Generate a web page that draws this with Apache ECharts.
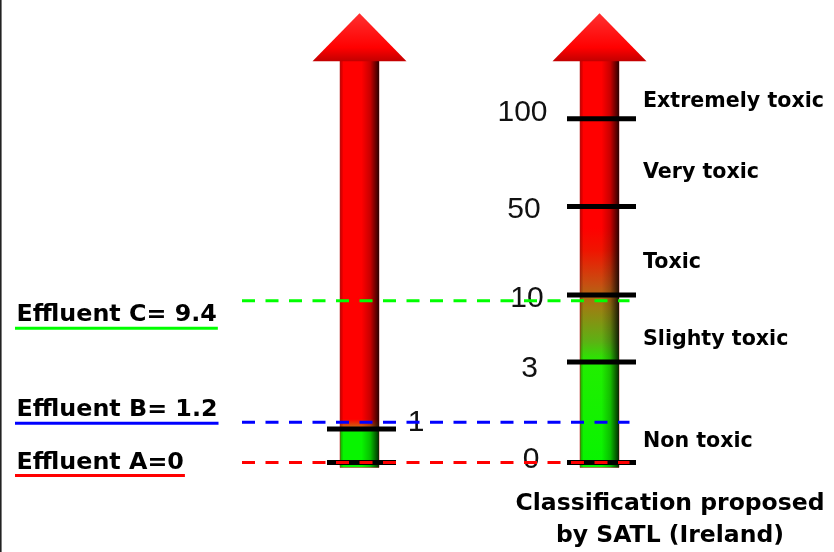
<!DOCTYPE html>
<html>
<head>
<meta charset="utf-8">
<script src="https://cdn.jsdelivr.net/npm/echarts@6/dist/echarts.min.js"></script>
<style>
html,body{margin:0;padding:0;background:#fff;}
#chart{width:834px;height:552px;}
</style>
</head>
<body>
<div id="chart"></div>
<script>
// ---------------- data ----------------
const arrowNames = ['Effluents', 'SATL classification'];
const effluentTicks = [0, 1];
const effluentTickLabels = ['', '1'];
const satlTicks = [0, 3, 10, 50, 100];
const satlTickLabels = ['0', '3', '10', '50', '100'];
const classNames = ['Non toxic', 'Slighty toxic', 'Toxic', 'Very toxic', 'Extremely toxic'];
const classLower = [0, 3, 10, 50, 100];
const classUpper = [3, 10, 50, 100, null];
const effluentNames = ['Effluent A', 'Effluent B', 'Effluent C'];
const effluentValues = [0, 1.2, 9.4];
const effluentLabels = ['Effluent A=0', 'Effluent B= 1.2', 'Effluent C= 9.4'];
const titleLines = ['Classification proposed', 'by SATL (Ireland)'];

// schematic (piecewise) scale of the diagram: toxic-unit value -> axis level
const scaleStops = [0, 3, 10, 50, 100];
const stopLevels = [0, 3, 5, 7.64, 10.26];

function toLevel(v) {
  const n = scaleStops.length;
  for (let i = 1; i < n; i++) {
    if (v <= scaleStops[i] || i === n - 1) {
      const a = scaleStops[i - 1], b = scaleStops[i];
      return stopLevels[i - 1] + (v - a) / (b - a) * (stopLevels[i] - stopLevels[i - 1]);
    }
  }
}

// ---------------- styles / layout ----------------
const effluentColors = ['#ff0000', '#0000ff', '#00ff00'];
const effluentLabelDy = [0, -12, 14.5];
const classLabelDy = [29.5, 11.5, 11.5, 10, -17.5];
const effluentTickLabelPos = [null, { dx: 56.5, dy: -6 }];
const satlTickLabelPos = [{ dx: -68.5, dy: -2.5 }, { dx: -70, dy: 6.5 }, { dx: -72.5, dy: 3.5 }, { dx: -75.5, dy: 3 }, { dx: -77, dy: -6 }];
const arrowColorStops = [
  [[0, '#08f400'], [0.93, '#08f400'], [1.08, '#d06010'], [1.3, '#ff0000'], [100, '#ff0000']],
  [[0, '#08f400'], [3, '#22ee00'], [5.1, '#5cb214'], [8.6, '#9c8012'], [14.5, '#c65012'], [30, '#f01400'], [40, '#ff0000'], [100, '#ff0000']]
];
const ARROW_TIP_LEVEL = 13.41;
const HEAD_H = 48, HEAD_W = 94, SHAFT_W = 39, SHAFT_OVERHANG = 5;
const TICK_W = 69, TICK_T = 5, TICK_DX = 2;
const NUM_FONT = '30px "Liberation Sans"';
const LABEL_FONT = 'bold 23.8px "DejaVu Sans"';
const TITLE_FONT = 'bold 23.5px "DejaVu Sans"';
const CLASS_FONT = 'bold 20.6px "DejaVu Sans"';

const measureCtx = document.createElement('canvas').getContext('2d');
function textWidth(t, font) { measureCtx.font = font; return measureCtx.measureText(t).width; }
function clamp01(x) { return Math.max(0, Math.min(1, x)); }

// ---------------- series renderers ----------------
function renderArrow(params, api) {
  const i = api.value(0);
  const p0 = api.coord([i, 0]);
  const cx = p0[0];
  const yTip = api.coord([i, ARROW_TIP_LEVEL])[1];
  const yBase = yTip + HEAD_H;
  const yBottom = p0[1] + SHAFT_OVERHANG;
  const h = yBottom - yBase;
  const stops = arrowColorStops[i].map(function (s) {
    const y = api.coord([i, toLevel(s[0])])[1];
    return { offset: clamp01((yBottom - y) / h), color: s[1] };
  });
  const shaft = { x: cx - SHAFT_W / 2, y: yBase - 1, width: SHAFT_W, height: h + 1 };
  return {
    type: 'group',
    children: [
      { type: 'rect', shape: shaft,
        style: { fill: new echarts.graphic.LinearGradient(0, 1, 0, 0, stops), stroke: 'rgba(190,40,40,0.55)', lineWidth: 1 } },
      { type: 'rect', shape: shaft,
        style: { fill: new echarts.graphic.LinearGradient(0, 0, 1, 0, [
          { offset: 0, color: 'rgba(110,0,0,0.35)' },
          { offset: 0.09, color: 'rgba(0,0,0,0)' },
          { offset: 0.55, color: 'rgba(0,0,0,0)' },
          { offset: 0.78, color: 'rgba(0,0,0,0.22)' },
          { offset: 0.92, color: 'rgba(0,0,0,0.6)' },
          { offset: 1, color: 'rgba(0,0,0,0.82)' }
        ]) } },
      { type: 'polygon',
        shape: { points: [[cx, yTip], [cx + HEAD_W / 2, yBase], [cx - HEAD_W / 2, yBase]] },
        style: { fill: new echarts.graphic.LinearGradient(0, 0, 0, 1, [
          { offset: 0, color: '#ff3030' },
          { offset: 0.72, color: '#ff0000' },
          { offset: 1, color: '#c20000' }
        ]) } }
    ]
  };
}

const tickItems = [];
effluentTicks.forEach(function (v, k) { tickItems.push({ arrow: 0, value: v, label: effluentTickLabels[k], pos: effluentTickLabelPos[k] }); });
satlTicks.forEach(function (v, k) { tickItems.push({ arrow: 1, value: v, label: satlTickLabels[k], pos: satlTickLabelPos[k] }); });

function renderTick(params, api) {
  const it = tickItems[params.dataIndex];
  const p = api.coord([api.value(0), api.value(1)]);
  const cx = p[0] + TICK_DX;
  const children = [
    { type: 'rect', shape: { x: cx - TICK_W / 2, y: p[1] - TICK_T / 2, width: TICK_W, height: TICK_T }, style: { fill: '#000' } }
  ];
  if (it.label) {
    children.push({ type: 'text', style: { x: p[0] + it.pos.dx, y: p[1] + it.pos.dy, text: it.label, font: NUM_FONT, fill: '#111', textAlign: 'center', textVerticalAlign: 'middle' } });
  }
  return { type: 'group', children: children };
}

function classAnchor(k) {
  if (classUpper[k] == null) return toLevel(classLower[k]);
  return (toLevel(classLower[k]) + toLevel(classUpper[k])) / 2;
}

function renderClass(params, api) {
  const k = params.dataIndex;
  const p = api.coord([api.value(0), api.value(1)]);
  return { type: 'text', style: { x: p[0] + 43.5, y: p[1] + classLabelDy[k], text: classNames[k], font: CLASS_FONT, fill: '#000', textAlign: 'left', textVerticalAlign: 'middle' } };
}

function renderEffluent(params, api) {
  const k = params.dataIndex;
  const y = api.coord([0, api.value(1)])[1];
  const band = api.size([1, 0])[0];
  const x1 = api.coord([0, 0])[0] - band / 2 + 2.5;
  const x2 = api.coord([1, 0])[0] + 30;
  const ty = y + effluentLabelDy[k];
  const w = textWidth(effluentLabels[k], LABEL_FONT);
  return {
    type: 'group',
    children: [
      { type: 'line', shape: { x1: x1, y1: y, x2: x2, y2: y }, style: { stroke: effluentColors[k], lineWidth: 3, lineDash: [13, 10.5] } },
      { type: 'text', style: { x: 16.5, y: ty, text: effluentLabels[k], font: LABEL_FONT, fill: '#000', textAlign: 'left', textVerticalAlign: 'middle' } },
      { type: 'rect', shape: { x: 15, y: ty + 11.5, width: w + 2.5, height: 3 }, style: { fill: effluentColors[k] } }
    ]
  };
}

const chart = echarts.init(document.getElementById('chart'), null, { renderer: 'canvas' });
chart.setOption({
  animation: false,
  backgroundColor: '#ffffff',
  grid: { left: 239.5, top: 10.25, width: 480, height: 536 },
  xAxis: { type: 'category', data: arrowNames, show: false, boundaryGap: true },
  yAxis: { type: 'value', min: -2.5, max: 13.5, show: false },
  graphic: [
    { type: 'rect', shape: { x: 0, y: 0, width: 1.6, height: 552 }, style: { fill: '#222' }, silent: true },
    { type: 'text', style: { x: 670, y: 504, text: titleLines[0], font: TITLE_FONT, fill: '#000', textAlign: 'center', textVerticalAlign: 'middle' }, silent: true },
    { type: 'text', style: { x: 670, y: 536, text: titleLines[1], font: TITLE_FONT, fill: '#000', textAlign: 'center', textVerticalAlign: 'middle' }, silent: true }
  ],
  series: [
    { type: 'custom', name: 'arrows', renderItem: renderArrow, clip: false, silent: true, z: 1,
      data: arrowNames.map(function (n, i) { return [i, 0]; }) },
    { type: 'custom', name: 'ticks', renderItem: renderTick, clip: false, silent: true, z: 2,
      data: tickItems.map(function (t) { return [t.arrow, toLevel(t.value)]; }) },
    { type: 'custom', name: 'classes', renderItem: renderClass, clip: false, silent: true, z: 2,
      data: classNames.map(function (n, k) { return [1, classAnchor(k)]; }) },
    { type: 'custom', name: 'effluents', renderItem: renderEffluent, clip: false, silent: true, z: 3,
      data: effluentValues.map(function (v) { return [0, toLevel(v)]; }) }
  ]
});
</script>
</body>
</html>
